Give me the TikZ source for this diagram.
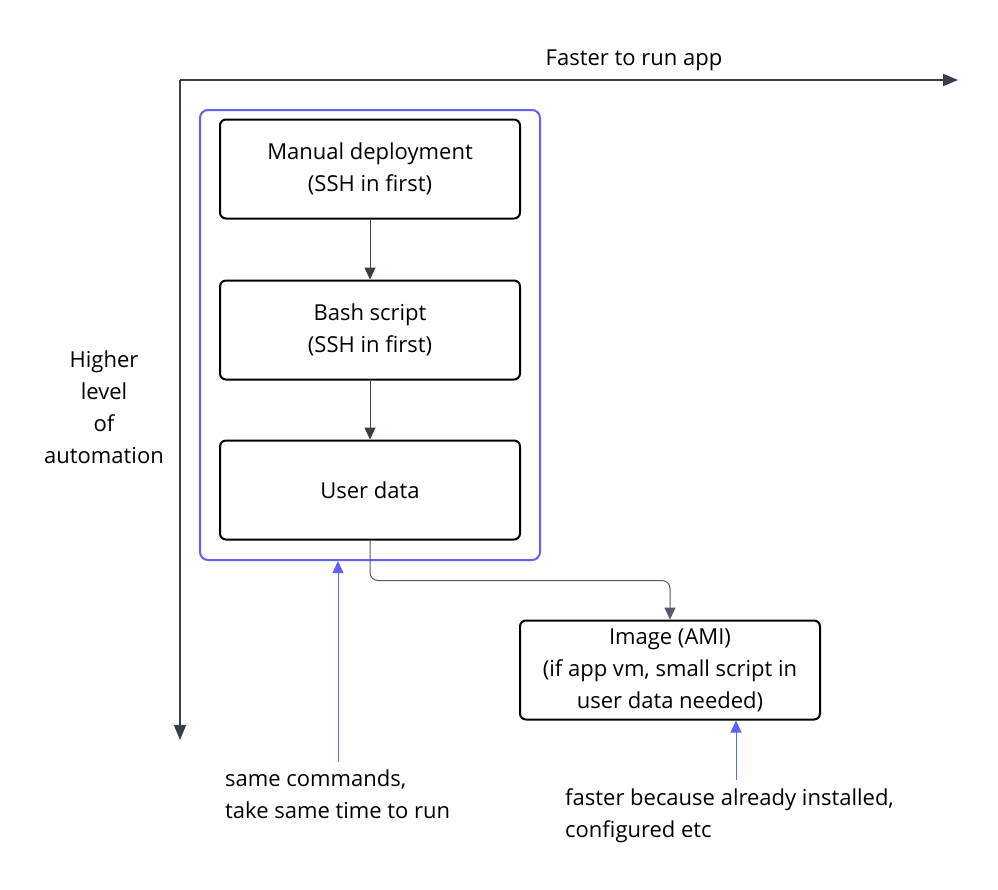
\documentclass[tikz,border=0pt]{standalone}
\usepackage{fontspec}
\setmainfont{Open Sans}
\usetikzlibrary{arrows.meta}
\definecolor{axis}{HTML}{373F4C}
\definecolor{conn}{HTML}{555B66}
\definecolor{blu}{HTML}{6161FF}
\tikzset{
  box/.style={draw=black, line width=2pt, rounded corners=6pt, minimum width=300pt, minimum height=99pt, align=center, inner sep=0pt},
  lbl/.style={font=\fontsize{22pt}{32pt}\selectfont, align=center, inner sep=0pt},
  conntip/.style={-{Triangle[length=12pt,width=11pt]}},
}
\begin{document}
\begin{tikzpicture}[x=1pt,y=-1pt]
\useasboundingbox (0,0) rectangle (998,889);
\coordinate (corner) at (180,80);
\coordinate (xend) at (958,80);
\coordinate (yend) at (180,740);
\draw[axis, line width=1.5pt, -{Triangle[length=15pt,width=12pt]}] (corner) -- (xend);
\draw[axis, line width=1.5pt, -{Triangle[length=15pt,width=12pt]}] (corner) -- (yend);
\node[lbl] (xlabel) at (634,60) {Faster to run app};
\node[lbl] (ylabel) at (104,407) {Higher\\level\\of\\automation};

\node[draw=blu, line width=2pt, rounded corners=8pt, minimum width=340pt, minimum height=450pt, inner sep=0pt] (group) at (370,335) {};

\node[box, lbl] (manual) at (370,169) {Manual deployment\\(SSH in first)};
\node[box, lbl] (bash) at (370,330) {Bash script\\(SSH in first)};
\node[box, lbl] (user) at (370,490) {User data};
\node[box, lbl] (ami) at (670,670) {Image (AMI)\\(if app vm, small script in\\user data needed)};

\draw[conn, line width=1pt, conntip, axis] (manual) -- (bash);
\draw[conn, line width=1pt, conntip, axis] (bash) -- (user);
\draw[conn, line width=1pt, conntip, rounded corners=8pt] (user.south) -- ++(0,40) -| (ami.north);

\coordinate (c1) at (338,762);
\coordinate (c2) at (736,780);
\draw[blu, line width=1pt, conntip] (c1) -- (c1 |- group.south);
\draw[blu, line width=1pt, conntip] (c2) -- (c2 |- ami.south);

\node[lbl, anchor=west, align=left] (note1) at (225,794) {same commands,\\take same time to run};
\node[lbl, anchor=west, align=left] (note2) at (565,816) {faster because already installed,\\configured etc};
\end{tikzpicture}
\end{document}
